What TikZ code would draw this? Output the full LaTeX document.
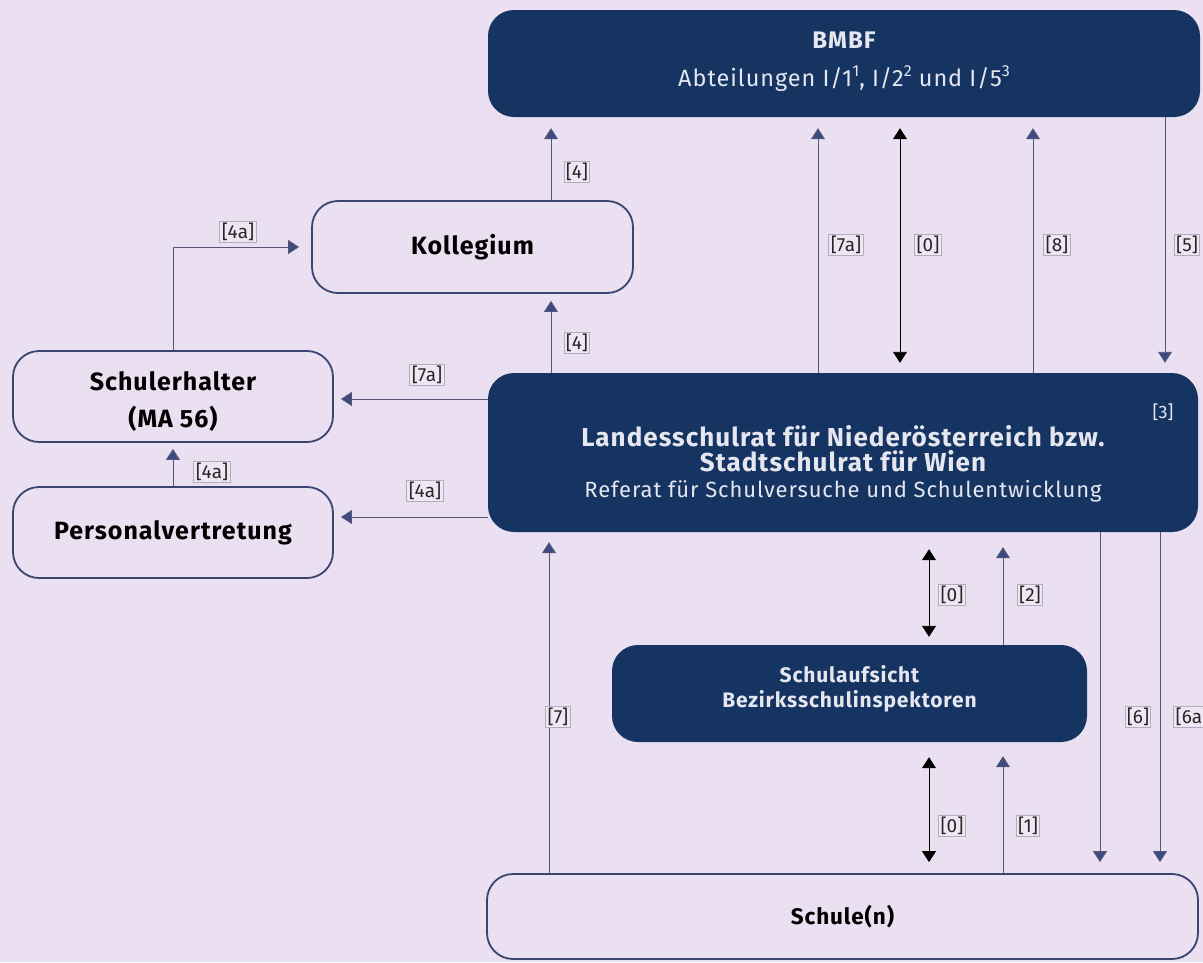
\documentclass[tikz,border=0pt]{standalone}
\usepackage{fontspec}
\setmainfont{Fira Sans}[LetterSpace=4]
\newfontfamily\labfont{Fira Sans}
\usetikzlibrary{arrows.meta}
\definecolor{bgc}{HTML}{EAE0F2}
\definecolor{navy}{HTML}{163462}
\definecolor{edge}{HTML}{3A4470}
\definecolor{arrc}{HTML}{3C4A80}
\definecolor{lineg}{HTML}{55577A}
\definecolor{labbd}{HTML}{B4ACBC}
\definecolor{labfill}{HTML}{EFE8F4}
\definecolor{lighttext}{HTML}{E6E6F0}
\newcommand{\supr}[1]{\raisebox{0.42em}{\fontsize{16}{16}\selectfont #1}}
\tikzset{
  lightbox/.style={draw=edge, line width=1.8pt, fill=bgc, rounded corners=26pt, align=center, font=\fontsize{25}{36}\selectfont\bfseries, text=black},
  darkbox/.style={fill=navy, rounded corners=26pt, align=center, text=lighttext},
  boxtext/.style={align=center, font=\fontsize{25}{37}\selectfont\bfseries, text=black},
  arr/.style={draw=lineg, line width=0.9pt, -{Triangle[width=14pt,length=11pt,fill=arrc]}},
  darr/.style={draw=black, line width=0.9pt, {Triangle[width=14pt,length=11pt,fill=black]}-{Triangle[width=14pt,length=11pt,fill=black]}},
  lab/.style={draw=labbd, line width=1pt, fill=labfill, inner sep=1.8pt, font=\labfont\fontsize{19}{19}\selectfont, text=black!85},
}
\begin{document}
\begin{tikzpicture}[x=1pt,y=-1pt]
\fill[bgc] (0,0) rectangle (1203,962);
\useasboundingbox (0,0) rectangle (1203,962);

% boxes
\node[darkbox, minimum width=712pt, minimum height=107pt] (bmbf) at (844,63.5) {};
\node[text=lighttext, font=\fontsize{24}{28}\selectfont\bfseries] (bmbft) at (844,40) {BMBF};
\node[text=lighttext, font=\fontsize{23.5}{26}\selectfont] (bmbfs) at (844,79) {Abteilungen I/1\supr{1}, I/2\supr{2} und I/5\supr{3}};

\node[lightbox, minimum width=321pt, minimum height=92pt] (kol) at (472.5,247) {Kollegium};
\node[lightbox, minimum width=320pt, minimum height=91pt] (sch) at (173,396.5) {};
\node[boxtext] (scht) at ([yshift=-5pt]sch.center) {Schulerhalter\\(MA 56)};
\node[lightbox, minimum width=320pt, minimum height=91pt] (pers) at (173,532.5) {Personalvertretung};

\node[darkbox, minimum width=710pt, minimum height=159pt] (lsr) at (843,452.5) {};
\node[text=lighttext, align=center, font=\fontsize{26}{25}\selectfont\bfseries] (lsrt) at (843,449) {Landesschulrat für Niederösterreich bzw.\\Stadtschulrat für Wien};
\node[text=lighttext, font=\fontsize{22}{24}\selectfont] (lsrs) at (843,491) {Referat für Schulversuche und Schulentwicklung};
\node[text=lighttext, font=\labfont\fontsize{18}{18}\selectfont] (l3) at (1163,412) {[3]};

\node[darkbox, minimum width=475pt, minimum height=97pt] (sa) at (849.5,693.5) {};
\node[text=lighttext, align=center, font=\fontsize{21}{25}\selectfont\bfseries] (sat) at (849.5,689) {Schulaufsicht\\Bezirksschulinspektoren};

\node[lightbox, minimum width=711pt, minimum height=85pt, font=\fontsize{22.5}{28}\selectfont\bfseries] (schule) at (842.5,916.5) {Schule(n)};

% connectors
\draw[arr, shorten >=11pt] (kol.north -| 551,0) -- (bmbf.south -| 551,0);
\draw[arr, shorten >=7pt] (lsr.north -| 551,0) -- (kol.south -| 551,0);
\draw[arr, shorten >=11pt] (lsr.north -| 818,0) -- (bmbf.south -| 818,0);
\draw[darr, shorten >=10pt, shorten <=11pt] (bmbf.south -| 900,0) -- (lsr.north -| 900,0);
\draw[arr, shorten >=11pt] (lsr.north -| 1033,0) -- (bmbf.south -| 1033,0);
\draw[arr, shorten >=10pt] (bmbf.south -| 1165,0) -- (lsr.north -| 1165,0);

\draw[arr, shorten >=7pt] (lsr.west |- 0,399) -- (sch.east |- 0,399);
\draw[arr, shorten >=7pt] (lsr.west |- 0,517) -- (pers.east |- 0,517);
\draw[arr, shorten >=6pt] (pers.north) -- (sch.south);
\coordinate (elb) at (173,247);
\draw[arr, shorten >=12pt] (sch.north) -- (elb) -- (kol.west);

\draw[darr, shorten >=8pt, shorten <=17pt] (lsr.south -| 929,0) -- (sa.north -| 929,0);
\draw[arr, shorten >=15pt] (sa.north -| 1003,0) -- (lsr.south -| 1003,0);
\draw[arr, shorten >=10pt] (schule.north -| 549,0) -- (lsr.south -| 549,0);
\draw[arr, shorten >=11pt] (lsr.south -| 1100,0) -- (schule.north -| 1100,0);
\draw[arr, shorten >=11pt] (lsr.south -| 1160,0) -- (schule.north -| 1160,0);
\draw[darr, shorten >=11pt, shorten <=15pt] (sa.south -| 929,0) -- (schule.north -| 929,0);
\draw[arr, shorten >=14pt] (schule.north -| 1003,0) -- (sa.south -| 1003,0);

% labels
\node[lab] (l4a) at (577,172) {[4]};
\node[lab] (l4b) at (577,343) {[4]};
\node[lab] (l4c) at (238,232) {[4a]};
\node[lab] (l7a) at (427,375) {[7a]};
\node[lab] (l4d) at (212,472) {[4a]};
\node[lab] (l4e) at (425,491) {[4a]};
\node[lab] (l7b) at (846,245) {[7a]};
\node[lab] (l0a) at (928,245) {[0]};
\node[lab] (l8) at (1057,245) {[8]};
\node[lab] (l5) at (1187,245) {[5]};
\node[lab] (l0b) at (952,595) {[0]};
\node[lab] (l2) at (1030,595) {[2]};
\node[lab] (l7) at (558,717) {[7]};
\node[lab] (l6) at (1138,717) {[6]};
\node[lab] (l6a) at (1192,717) {[6a]};
\node[lab] (l0c) at (952,826) {[0]};
\node[lab] (l1) at (1028,826) {[1]};
\end{tikzpicture}
\end{document}
